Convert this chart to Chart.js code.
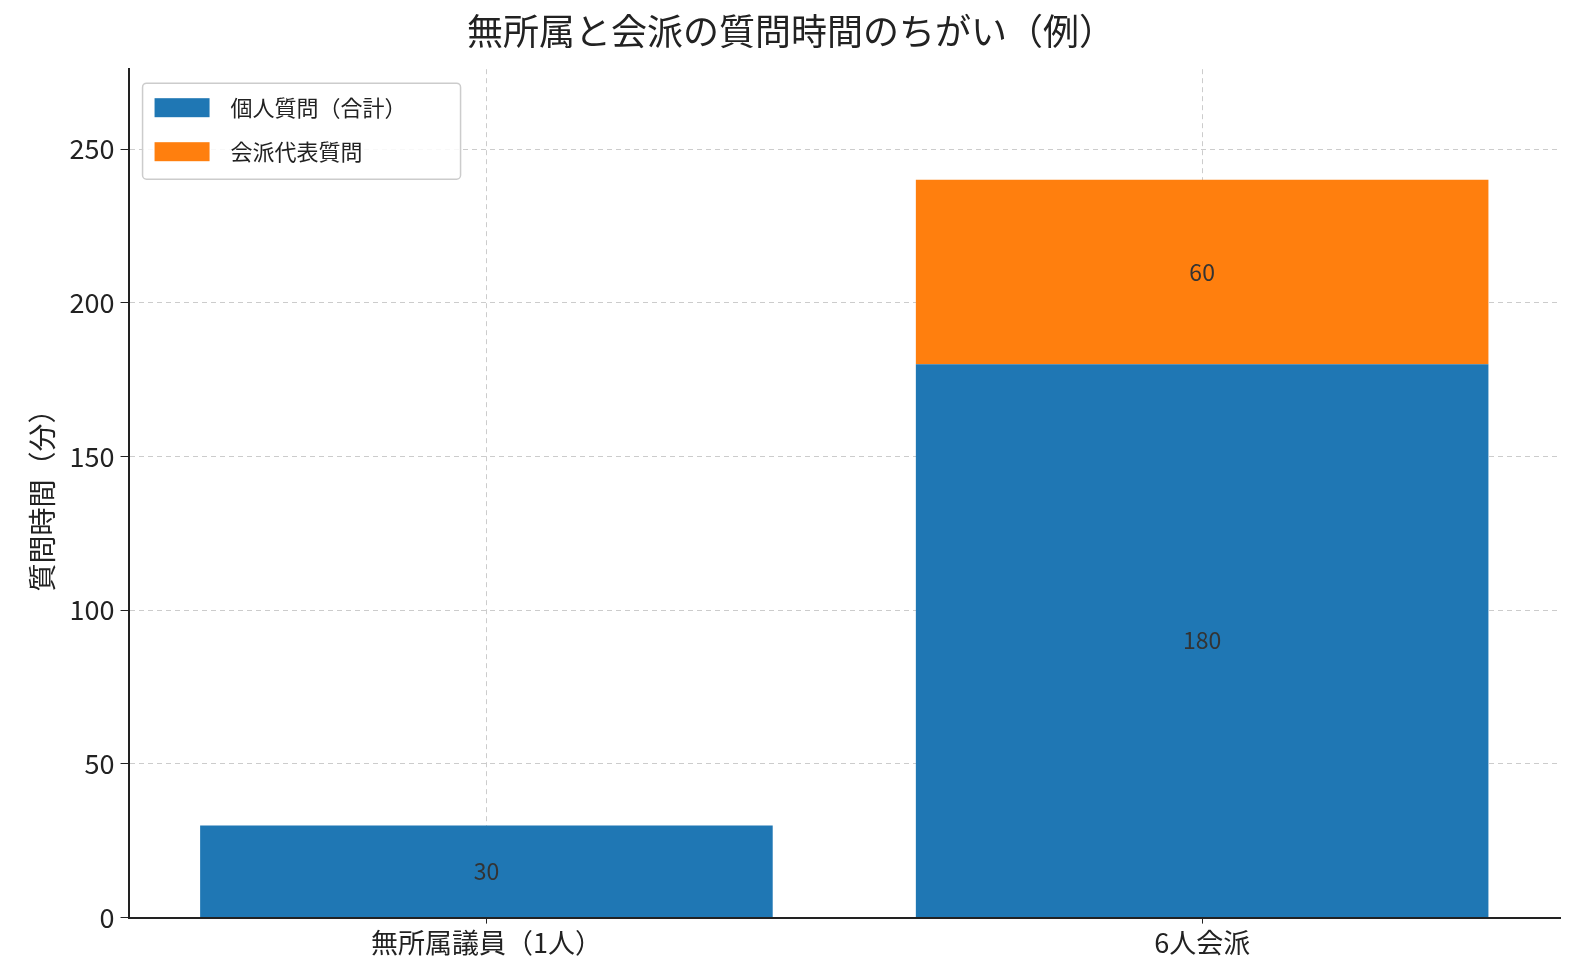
<!DOCTYPE html>
<html>
<head>
<meta charset="utf-8">
<script src="https://cdn.jsdelivr.net/npm/chart.js@4/dist/chart.umd.min.js"></script>
<style>
  html, body { margin: 0; padding: 0; background: #fff; }
  #wrap { width: 1580px; height: 980px; }
</style>
</head>
<body>
<div id="wrap"><canvas id="chart"></canvas></div>
<script>
var categories = ['無所属議員（1人）', '6人会派']
var individualValues = [30, 180]
var groupValues = [0, 60]
var yTicks = [0, 50, 100, 150, 200, 250]

var FONT = '"Noto Sans CJK JP", "Noto Sans", sans-serif'

// bar value labels in the middle of each segment
var barLabels = {
    id: 'barLabels',
    afterDatasetsDraw: (chart) => {
        var ctx = chart.ctx
        ctx.save()
        ctx.font = `23px ${FONT}`
        ctx.fillStyle = '#333'
        ctx.textAlign = 'center'
        ctx.textBaseline = 'middle'
        chart.data.datasets.forEach((ds, di) => {
            chart.getDatasetMeta(di).data.forEach((bar, i) => {
                if (!ds.data[i]) return
                ctx.fillText(ds.data[i], bar.x, (bar.y + bar.base) / 2)
            })
        })
        ctx.restore()
    }
}

// legend box in the upper left of the plot area
var boxLegend = {
    id: 'boxLegend',
    afterDraw: (chart) => {
        var ctx = chart.ctx
        var a = chart.chartArea
        var x = a.left + 14, y = a.top + 14
        ctx.save()
        ctx.fillStyle = 'rgba(255,255,255,0.85)'
        ctx.strokeStyle = '#ccc'
        ctx.lineWidth = 1.5
        ctx.beginPath()
        ctx.roundRect(x, y, 318, 96, 4)
        ctx.fill()
        ctx.stroke()
        ctx.font = `22px ${FONT}`
        ctx.textBaseline = 'middle'
        chart.data.datasets.forEach((ds, i) => {
            var ry = y + 24 + i * 44
            ctx.fillStyle = ds.backgroundColor
            ctx.fillRect(x + 12, ry - 9, 55, 19)
            ctx.fillStyle = '#222'
            ctx.fillText(ds.label, x + 88, ry)
        })
        ctx.restore()
    }
}

new Chart(document.getElementById('chart'), {
    type: 'bar',
    data: {
        labels: categories,
        datasets: [
            { label: '個人質問（合計）', data: individualValues, backgroundColor: '#1f77b4' },
            { label: '会派代表質問', data: groupValues, backgroundColor: '#ff7f0e' }
        ]
    },
    options: {
        responsive: true,
        maintainAspectRatio: false,
        animation: false,
        layout: { padding: { left: 22, right: 20, top: 6, bottom: 18 } },
        datasets: { bar: { barPercentage: 0.8, categoryPercentage: 1.0 } },
        plugins: {
            legend: { display: false },
            tooltip: { enabled: false },
            title: {
                display: true,
                text: '無所属と会派の質問時間のちがい（例）',
                color: '#222',
                font: { family: FONT, size: 36, weight: 'normal' },
                padding: { top: 4, bottom: 16 }
            }
        },
        scales: {
            x: {
                stacked: true,
                grid: { offset: false, color: '#ccc', lineWidth: 1, tickLength: 6, tickColor: '#222' },
                border: { color: '#222', width: 2, dash: [5, 4] },
                ticks: { color: '#222', font: { family: FONT, size: 27 } }
            },
            y: {
                stacked: true,
                min: 0,
                max: 276,
                afterBuildTicks: (axis) => { axis.ticks = yTicks.map(v => ({ value: v })) },
                grid: { color: '#ccc', lineWidth: 1, tickLength: 8, tickColor: '#222' },
                border: { color: '#222', width: 2, dash: [5, 4] },
                ticks: { color: '#222', font: { family: FONT, size: 27 }, padding: 6 },
                title: {
                    display: true,
                    text: '質問時間（分）',
                    color: '#222',
                    font: { family: FONT, size: 28 }
                }
            }
        }
    },
    plugins: [barLabels, boxLegend]
})
</script>
</body>
</html>
